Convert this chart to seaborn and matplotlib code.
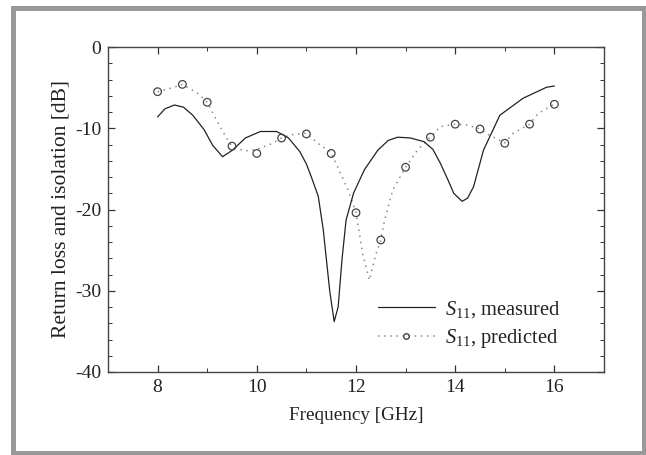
import matplotlib
matplotlib.use("Agg")
import matplotlib.pyplot as plt
from matplotlib.lines import Line2D
from matplotlib.patches import Rectangle
from matplotlib.ticker import MultipleLocator
import seaborn as sns
import pandas as pd

# ---- data ----
meas_freq = [8.0, 8.15, 8.34, 8.52, 8.71, 8.94, 9.11, 9.31, 9.51, 9.77, 10.07, 10.4, 10.64,
             10.87, 11.0, 11.1, 11.24, 11.34, 11.47, 11.56, 11.64, 11.72, 11.8, 11.95,
             12.17, 12.44, 12.65, 12.84, 13.1, 13.37, 13.55, 13.7, 13.85, 13.97, 14.14,
             14.25, 14.37, 14.57, 14.9, 15.37, 15.84, 16.0]
meas_db = [-8.6, -7.6, -7.14, -7.4, -8.4, -10.2, -12.1, -13.5, -12.7, -11.2, -10.4, -10.4, -11.2,
           -12.9, -14.4, -16.0, -18.4, -22.5, -30.0, -33.8, -32.0, -26.0, -21.3, -18.0,
           -15.1, -12.7, -11.5, -11.1, -11.2, -11.65, -12.6, -14.3, -16.3, -18.0, -19.0,
           -18.6, -17.2, -12.7, -8.4, -6.3, -4.96, -4.8]

pred_curve_freq = [8.0, 8.25, 8.5, 8.81, 9.0, 9.24, 9.39, 9.5, 9.75, 10.0, 10.3, 10.5, 10.7,
                   11.0, 11.24, 11.5, 11.67, 11.84, 12.0, 12.14, 12.27, 12.4, 12.5, 12.57,
                   12.74, 13.0, 13.25, 13.5, 13.7, 14.0, 14.25, 14.5, 14.67, 15.0, 15.17,
                   15.5, 15.67, 16.0]
pred_curve_db = [-5.5, -5.1, -4.6, -5.7, -6.8, -9.6, -11.2, -12.2, -12.8, -12.6, -11.9, -11.2, -10.8,
                 -10.6, -11.9, -13.0, -15.3, -17.6, -20.4, -25.6, -28.7, -25.5, -23.75, -21.5,
                 -17.6, -14.8, -12.6, -11.1, -9.8, -9.5, -9.6, -10.1, -10.8, -11.8, -10.6,
                 -9.5, -8.2, -7.0]

pred_marker_freq = [8.0, 8.5, 9.0, 9.5, 10.0, 10.5, 11.0, 11.5, 12.0, 12.5, 13.0, 13.5,
                    14.0, 14.5, 15.0, 15.5, 16.0]
pred_marker_db = [-5.5, -4.6, -6.8, -12.2, -13.1, -11.2, -10.7, -13.1, -20.4, -23.75, -14.8,
                  -11.1, -9.5, -10.1, -11.85, -9.5, -7.05]

x_ticks = [8, 10, 12, 14, 16]
y_ticks = [0, -10, -20, -30, -40]
x_label = "Frequency [GHz]"
y_label = "Return loss and isolation [dB]"
legend_labels = [r"$S_{11}$, measured", r"$S_{11}$, predicted"]

# ---- style ----
sns.set_theme(style="white")
plt.rcParams["font.family"] = ["Liberation Serif", "DejaVu Serif"]
plt.rcParams["mathtext.fontset"] = "custom"
plt.rcParams["mathtext.rm"] = "Liberation Serif"
plt.rcParams["mathtext.it"] = "Liberation Serif:italic"
plt.rcParams["axes.unicode_minus"] = False

fig = plt.figure(figsize=(6.46, 4.55), dpi=100)
ax = fig.add_axes([108 / 646, 1 - 372 / 455, (604 - 108) / 646, (372 - 47) / 455])

df_meas = pd.DataFrame({"f": meas_freq, "db": meas_db})
df_pc = pd.DataFrame({"f": pred_curve_freq, "db": pred_curve_db})
df_pm = pd.DataFrame({"f": pred_marker_freq, "db": pred_marker_db})

sns.lineplot(data=df_pc, x="f", y="db", ax=ax, color="#8a8a8a", linewidth=1.1,
             linestyle=(0, (1, 3)), estimator=None, sort=False)
sns.lineplot(data=df_meas, x="f", y="db", ax=ax, color="#222222", linewidth=0.9,
             estimator=None, sort=False)
sns.scatterplot(data=df_pm, x="f", y="db", ax=ax, marker="o", s=30,
                facecolor="none", edgecolor="#444444", linewidth=0.9, zorder=5)

ax.set_xlim(7, 17)
ax.set_ylim(-40, 0)
ax.set_xticks(x_ticks)
ax.set_yticks(y_ticks)
ax.xaxis.set_minor_locator(MultipleLocator(1))
ax.yaxis.set_minor_locator(MultipleLocator(2))
ax.tick_params(which="both", direction="in", top=True, right=True, bottom=True, left=True,
               colors="#333333", labelcolor="#222222", labelsize=14)
ax.tick_params(which="major", length=5, width=0.9, pad=5)
ax.tick_params(which="minor", length=3, width=0.7)
for sp in ax.spines.values():
    sp.set_color("#444444")
    sp.set_linewidth(1.0)

ax.set_xlabel(x_label, fontsize=13.8, color="#222222", labelpad=8)
ax.set_ylabel(y_label, fontsize=15.5, color="#222222", labelpad=3)

handles = [
    Line2D([], [], color="#222222", linewidth=0.9),
    Line2D([], [], color="#8a8a8a", linewidth=1.1, linestyle=(0, (1, 3)),
           marker="o", markersize=4, markerfacecolor="none", markeredgecolor="#444444",
           markevery=[1]),
]
leg = ax.legend(handles, legend_labels, loc="lower right", frameon=False, fontsize=14.8,
                handlelength=2.8, handletextpad=0.5, labelspacing=0.35,
                bbox_to_anchor=(0.93, 0.042), borderaxespad=0)
for t in leg.get_texts():
    t.set_color("#222222")

# gray frame around the figure
fig.patches.append(Rectangle((13.5 / 646, 1 - 452.5 / 455), 630 / 646, 445 / 455,
                             transform=fig.transFigure, fill=False,
                             edgecolor="#999999", linewidth=3.6))

fig.savefig("out.png", dpi=100)
